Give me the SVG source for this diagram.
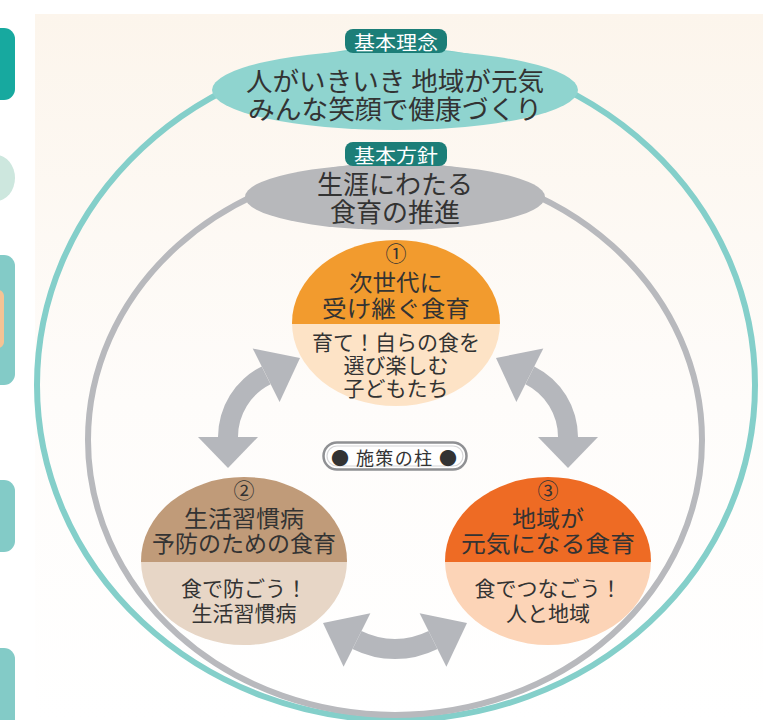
<svg xmlns="http://www.w3.org/2000/svg" width="763" height="720" viewBox="0 0 763 720">
<defs>
<linearGradient id="bg" x1="0" y1="0" x2="0" y2="1">
<stop offset="0" stop-color="#fcf5ec"/>
<stop offset="0.55" stop-color="#fefcfa"/>
<stop offset="1" stop-color="#ffffff"/>
</linearGradient>
<clipPath id="c1"><ellipse cx="396" cy="323" rx="104" ry="83"/></clipPath>
<clipPath id="c2"><ellipse cx="244" cy="561" rx="103" ry="84"/></clipPath>
<clipPath id="c3"><ellipse cx="548" cy="561" rx="103" ry="84"/></clipPath>
</defs>
<style>
text{font-family:"Noto Sans CJK JP","Noto Sans",sans-serif;text-anchor:middle;dominant-baseline:central;fill:#333}
.tag{fill:#1c7e78}
.tagt{fill:#fff;font-size:19px}
.big{font-size:26px}
.ttl{font-size:23px}
.sub{font-size:21px}
.num{font-size:21px}
.arw{fill:#b5b7bc}
.side{fill:#83cbc7}
</style>
<rect width="763" height="720" fill="#fff"/>
<rect x="35" y="14" width="728" height="706" fill="url(#bg)"/>
<g id="side-shapes">
<rect x="-20" y="28" width="35" height="72" rx="11" fill="#17a99f"/>
<ellipse cx="-4" cy="178" rx="19" ry="23" fill="#cde7de"/>
<rect x="-20" y="255" width="35" height="130" rx="11" class="side"/>
<rect x="-10" y="290" width="14" height="58" rx="6" fill="#f5c394"/>
<rect x="-20" y="480" width="35" height="72" rx="11" class="side"/>
<rect x="-20" y="648" width="35" height="90" rx="11" class="side"/>
</g>
<g id="outlines" fill="none">
<ellipse cx="396" cy="385" rx="359" ry="335" stroke="#84cfca" stroke-width="6"/>
<ellipse cx="395" cy="440" rx="307" ry="275" stroke="#b8b9bd" stroke-width="6"/>
</g>
<g id="philosophy">
<ellipse cx="395" cy="90" rx="183" ry="40" fill="#8fd4cf"/>
<rect x="345" y="29" width="102" height="24" rx="8" class="tag"/>
<text x="396" y="41.5" class="tagt" textLength="84" lengthAdjust="spacingAndGlyphs">基本理念</text>
<text class="big"><tspan x="395" y="79" textLength="298" lengthAdjust="spacingAndGlyphs">人がいきいき 地域が元気</tspan><tspan x="395" y="107" textLength="294" lengthAdjust="spacingAndGlyphs">みんな笑顔で健康づくり</tspan></text>
</g>
<g id="policy">
<ellipse cx="395" cy="197" rx="150" ry="33" fill="#b7b8bb"/>
<rect x="345" y="142" width="102" height="24" rx="8" class="tag"/>
<text x="396" y="154.5" class="tagt" textLength="84" lengthAdjust="spacingAndGlyphs">基本方針</text>
<text style="font-size:26px"><tspan x="395" y="182">生涯にわたる</tspan><tspan x="395" y="210">食育の推進</tspan></text>
</g>
<g id="connectors">
<path class="arw" d="M218,437 A79,79 0 0 1 261.7,366.4 L270.6,384.3 A59,59 0 0 0 238,437 Z"/>
<polygon class="arw" points="198,437 258,437 228,468"/>
<polygon class="arw" points="252.7,348.5 279.6,402.1 300,358"/>
<path class="arw" d="M578,437 A79,79 0 0 0 534.3,366.4 L525.4,384.3 A59,59 0 0 1 558,437 Z"/>
<polygon class="arw" points="598,437 538,437 568,468"/>
<polygon class="arw" points="543.3,348.5 516.4,402.1 496,358"/>
<path class="arw" d="M352.5,648.9 A95,95 0 0 0 437.5,648.9 L428.5,631.1 A75,75 0 0 1 361.5,631.1 Z"/>
<polygon class="arw" points="370.4,613.2 343.6,666.8 323,623"/>
<polygon class="arw" points="419.6,613.2 446.4,666.8 467,623"/>
</g>
<g id="pillar1">
<g clip-path="url(#c1)">
<rect x="290" y="238" width="212" height="86" fill="#f29b2e"/>
<rect x="290" y="324" width="212" height="84" fill="#fde3c6"/>
</g>
<text class="ttl"><tspan x="396" y="252" class="num">①</tspan><tspan x="396" y="281" textLength="94" lengthAdjust="spacingAndGlyphs">次世代に</tspan><tspan x="396" y="307" textLength="148" lengthAdjust="spacingAndGlyphs">受け継ぐ食育</tspan></text>
<text class="sub"><tspan x="396" y="341">育て！自らの食を</tspan><tspan x="396" y="364">選び楽しむ</tspan><tspan x="396" y="387">子どもたち</tspan></text>
</g>
<g id="pillar2">
<g clip-path="url(#c2)">
<rect x="140" y="476" width="208" height="86" fill="#c09b79"/>
<rect x="140" y="562" width="208" height="86" fill="#e7d6c6"/>
</g>
<text class="ttl"><tspan x="244" y="489" class="num">②</tspan><tspan x="244" y="517" textLength="120" lengthAdjust="spacingAndGlyphs">生活習慣病</tspan><tspan x="244" y="542" textLength="184" lengthAdjust="spacingAndGlyphs">予防のための食育</tspan></text>
<text class="sub"><tspan x="244" y="587">食で防ごう！</tspan><tspan x="244" y="612">生活習慣病</tspan></text>
</g>
<g id="pillar3">
<g clip-path="url(#c3)">
<rect x="444" y="476" width="208" height="86" fill="#ee6b24"/>
<rect x="444" y="562" width="208" height="86" fill="#fcd4b7"/>
</g>
<text class="ttl"><tspan x="548" y="489" class="num">③</tspan><tspan x="548" y="517" textLength="72" lengthAdjust="spacingAndGlyphs">地域が</tspan><tspan x="548" y="542" textLength="174" lengthAdjust="spacingAndGlyphs">元気になる食育</tspan></text>
<text class="sub"><tspan x="548" y="587">食でつなごう！</tspan><tspan x="548" y="612">人と地域</tspan></text>
</g>
<g id="pillars-label">
<rect x="323.5" y="442.5" width="143" height="27" rx="13.5" fill="#fff" stroke="#8f9093" stroke-width="2.5"/>
<rect x="327" y="446" width="136" height="20" rx="10" fill="none" stroke="#d6d6d8" stroke-width="1.2"/>
<text x="394" y="456.5" style="font-size:18px" textLength="126" lengthAdjust="spacing">● 施策の柱 ●</text>
</g>
</svg>
